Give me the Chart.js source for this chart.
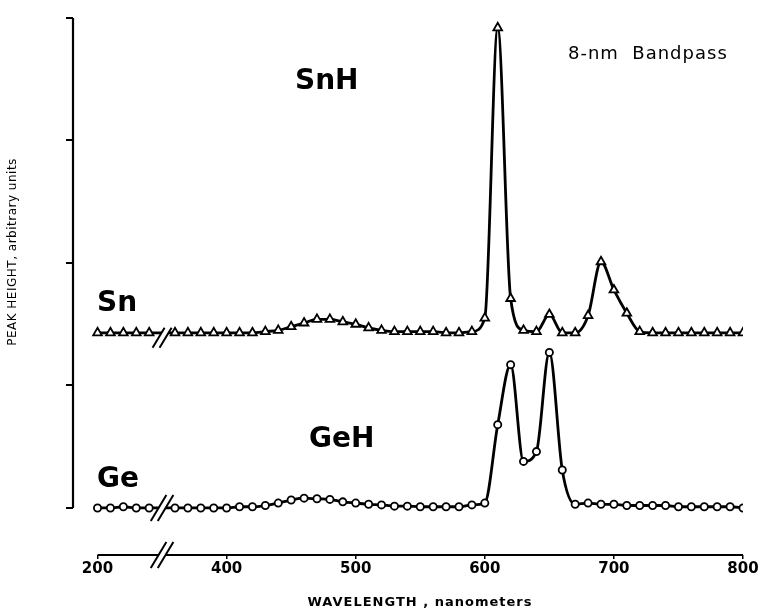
<!DOCTYPE html>
<html>
<head>
<meta charset="utf-8">
<script src="https://cdn.jsdelivr.net/npm/chart.js@4.4.1/dist/chart.umd.min.js"></script>
<style>
  html, body { margin: 0; padding: 0; background: #fff; }
  #wrap { width: 761px; height: 614px; }
</style>
</head>
<body>
<div id="wrap"><canvas id="spec" width="761" height="614"></canvas></div>
<script>
// wavelengths (nm). Points left of the axis break are drawn 100 nm further right
const waveLeft = [200, 210, 220, 230, 240];
const waveRight = [360, 370, 380, 390, 400, 410, 420, 430, 440, 450, 460, 470, 480, 490, 500,
  510, 520, 530, 540, 550, 560, 570, 580, 590, 600, 610, 620, 630, 640, 650, 660, 670, 680,
  690, 700, 710, 720, 730, 740, 750, 760, 770, 780, 790, 800];

// peak height, arbitrary units
const snLeft = [1.43, 1.43, 1.43, 1.43, 1.43];
const snRight = [1.43, 1.43, 1.43, 1.43, 1.43, 1.43, 1.43, 1.44, 1.45, 1.48, 1.51, 1.54, 1.54, 1.52, 1.50,
  1.47, 1.45, 1.44, 1.44, 1.44, 1.44, 1.43, 1.43, 1.44, 1.55, 3.92, 1.71, 1.45, 1.44, 1.58, 1.43, 1.43, 1.57,
  2.01, 1.78, 1.59, 1.44, 1.43, 1.43, 1.43, 1.43, 1.43, 1.43, 1.43, 1.43];

const geLeft = [0.0, 0.0, 0.01, 0.0, 0.0];
const geRight = [0.0, 0.0, 0.0, 0.0, 0.0, 0.01, 0.01, 0.02, 0.04, 0.065, 0.08, 0.075, 0.07, 0.05, 0.04,
  0.03, 0.025, 0.015, 0.015, 0.01, 0.01, 0.01, 0.01, 0.025, 0.04, 0.68, 1.17, 0.38, 0.46, 1.27, 0.31, 0.03, 0.04,
  0.03, 0.03, 0.02, 0.02, 0.02, 0.02, 0.01, 0.01, 0.01, 0.01, 0.01, 0.0];

const xTickLabels = [200, 400, 500, 600, 700, 800];
const yTicks = [0, 1, 2, 3, 4];

const BREAK_SHIFT = 100;
const toAxis = w => (w < 300 ? w + BREAK_SHIFT : w);
const fromAxis = v => (v < 350 ? v - BREAK_SHIFT : v);

function points(waves, vals) {
  return waves.map((w, i) => ({ x: toAxis(w), y: vals[i] }));
}

const FONT = '"DejaVu Sans", "Liberation Sans", sans-serif';

function drawBreak(ctx, x, y, h) {
  const lean = h * 0.3;
  const gap = 7;
  ctx.save();
  ctx.fillStyle = '#fff';
  ctx.beginPath();
  ctx.moveTo(x - gap / 2 - lean, y + h / 2);
  ctx.lineTo(x - gap / 2 + lean, y - h / 2);
  ctx.lineTo(x + gap / 2 + lean, y - h / 2);
  ctx.lineTo(x + gap / 2 - lean, y + h / 2);
  ctx.closePath();
  ctx.fill();
  ctx.strokeStyle = '#000';
  ctx.lineWidth = 2;
  [-gap / 2, gap / 2].forEach(dx => {
    ctx.beginPath();
    ctx.moveTo(x + dx - lean, y + h / 2);
    ctx.lineTo(x + dx + lean, y - h / 2);
    ctx.stroke();
  });
  ctx.restore();
}

const decor = {
  id: 'decor',
  afterDatasetsDraw(chart) {
    const { ctx, scales: { x, y } } = chart;
    ctx.save();
    ctx.strokeStyle = '#000';
    ctx.lineWidth = 2.2;
    // y axis only spans the ticked range
    ctx.beginPath();
    ctx.moveTo(x.left, y.getPixelForValue(4));
    ctx.lineTo(x.left, y.getPixelForValue(0));
    ctx.stroke();
    // x axis from 200 to 800
    ctx.beginPath();
    ctx.moveTo(x.getPixelForValue(300), y.bottom);
    ctx.lineTo(x.getPixelForValue(800), y.bottom);
    ctx.stroke();
    ctx.restore();

    const bx = x.getPixelForValue(350);
    drawBreak(ctx, bx, y.bottom, 26);
    drawBreak(ctx, bx, y.getPixelForValue(1.43) + 5, 20);
    drawBreak(ctx, bx, y.getPixelForValue(0), 26);
  },
  afterDraw(chart) {
    const { ctx } = chart;
    ctx.save();
    ctx.fillStyle = '#000';
    ctx.textBaseline = 'alphabetic';
    ctx.textAlign = 'left';
    ctx.font = 'bold 28px ' + FONT;
    ctx.fillText('Sn', 97, 311);
    ctx.fillText('Ge', 97, 487);
    ctx.fillText('SnH', 295, 89);
    ctx.fillText('GeH', 309, 447);
    ctx.font = '18px ' + FONT;
    if ('letterSpacing' in ctx) ctx.letterSpacing = '1px';
    ctx.fillText('8-nm  Bandpass', 568, 59);
    ctx.font = 'bold 13px ' + FONT;
    if ('letterSpacing' in ctx) ctx.letterSpacing = '1px';
    ctx.textAlign = 'center';
    ctx.fillText('WAVELENGTH , nanometers', 420, 606);
    ctx.translate(16, 252);
    ctx.rotate(-Math.PI / 2);
    ctx.font = '12px ' + FONT;
    if ('letterSpacing' in ctx) ctx.letterSpacing = '0.5px';
    ctx.fillText('PEAK HEIGHT, arbitrary units', 0, 0);
    ctx.restore();
  }
};

new Chart(document.getElementById('spec'), {
  type: 'line',
  data: {
    datasets: [
      {
        label: 'Sn',
        data: points(waveLeft.concat(waveRight), snLeft.concat(snRight)),
        pointStyle: 'triangle',
        pointRadius: 5,
        pointBorderWidth: 1.8,
        pointBackgroundColor: '#fff',
        pointBorderColor: '#000',
        borderColor: '#000',
        borderWidth: 2.8,
        cubicInterpolationMode: 'monotone',
        fill: false
      },
      {
        label: 'Ge',
        data: points(waveLeft.concat(waveRight), geLeft.concat(geRight)),
        pointStyle: 'circle',
        pointRadius: 3.6,
        pointBorderWidth: 1.8,
        pointBackgroundColor: '#fff',
        pointBorderColor: '#000',
        borderColor: '#000',
        borderWidth: 2.8,
        cubicInterpolationMode: 'monotone',
        fill: false
      }
    ]
  },
  options: {
    responsive: false,
    animation: false,
    devicePixelRatio: 1,
    layout: { padding: { top: 18, right: 18, left: 0, bottom: 0 } },
    plugins: { legend: { display: false }, tooltip: { enabled: false } },
    scales: {
      x: {
        type: 'linear',
        min: 281,
        max: 800,
        afterFit: s => { s.height = 59; },
        afterBuildTicks: s => { s.ticks = xTickLabels.map(w => ({ value: toAxis(w) })); },
        border: { display: false },
        grid: { drawOnChartArea: false, color: '#000', lineWidth: 1.5, tickLength: 4 },
        ticks: {
          color: '#000',
          padding: 1,
          maxRotation: 0,
          font: { family: FONT, size: 15, weight: 'bold' },
          callback: v => String(fromAxis(v))
        }
      },
      y: {
        type: 'linear',
        min: -0.384,
        max: 4,
        afterFit: s => { s.width = 73; },
        afterBuildTicks: s => { s.ticks = yTicks.map(v => ({ value: v })); },
        border: { display: false },
        grid: { drawOnChartArea: false, color: '#000', lineWidth: 2, tickLength: 7 },
        ticks: { display: false }
      }
    }
  },
  plugins: [decor]
});
</script>
</body>
</html>
